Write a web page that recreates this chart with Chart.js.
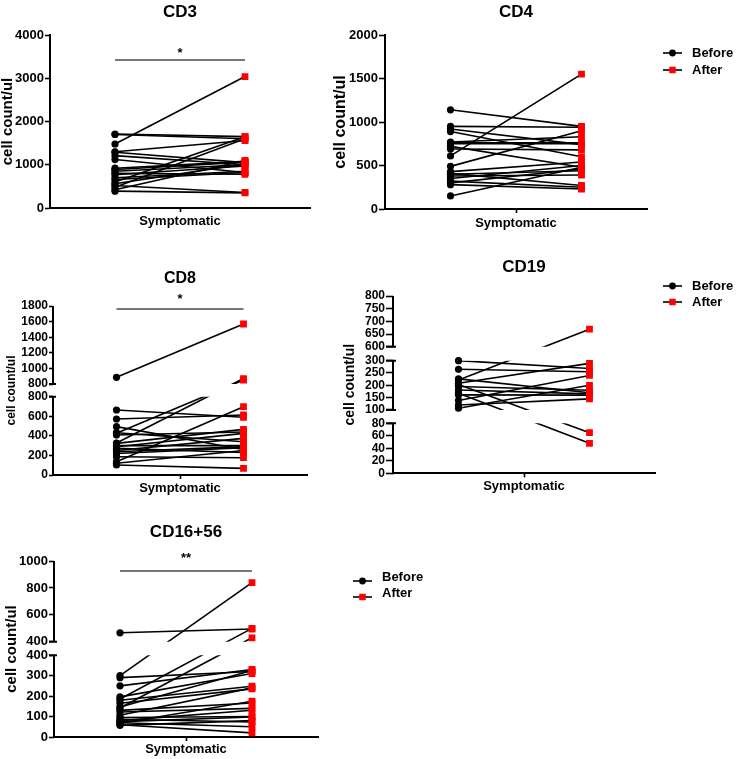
<!DOCTYPE html>
<html>
<head>
<meta charset="utf-8">
<script src="https://cdn.jsdelivr.net/npm/chart.js@4.4.0/dist/chart.umd.min.js"></script>
<style>
  html, body { margin: 0; padding: 0; background: #fff; }
  #wrap { position: relative; width: 750px; height: 759px; }
  #wrap canvas { position: absolute; left: 0; top: 0; }
</style>
</head>
<body>
<div id="wrap">
  <canvas id="cd3" width="750" height="759"></canvas>
  <canvas id="cd4" width="750" height="759"></canvas>
  <canvas id="cd8" width="750" height="759"></canvas>
  <canvas id="cd19" width="750" height="759"></canvas>
  <canvas id="cd16" width="750" height="759"></canvas>
</div>
<script>
// paired values per subject (cell count/ul)
const categories = ['Before', 'After'];

const cd3Before = [1710, 1700, 1480, 1300, 1290, 1210, 1120, 920, 890, 850, 800, 770, 700, 660, 600, 560, 520, 480, 420, 390];
const cd3After  = [1650, 1600, 3040, 1560, 1050, 1000, 820, 1080, 1060, 1000, 780, 970, 850, 820, 1650, 1020, 360, 1600, 1100, 350];
const cd3Ticks = [0, 1000, 2000, 3000, 4000];
const cd3Sig = 3420;

const cd4Before = [1140, 950, 920, 890, 770, 760, 750, 720, 690, 610, 490, 430, 410, 400, 380, 350, 320, 300, 280, 150];
const cd4After  = [950, 940, 740, 600, 830, 760, 750, 480, 680, 1550, 900, 540, 270, 440, 390, 500, 250, 460, 230, 480];
const cd4Ticks = [0, 500, 1000, 1500, 2000];

const cd8Before = [886, 664, 572, 494, 432, 426, 408, 327, 323, 300, 289, 272, 250, 238, 220, 187, 136, 120, 102];
const cd8After  = [1569, 590, 613, 260, 340, 850, 440, 870, 466, 300, 425, 230, 374, 290, 280, 177, 698, 250, 68];
const cd8Ranges = [[0, 800], [800, 1800]];
const cd8Ticks = [[0, 200, 400, 600, 800], [800, 1000, 1200, 1400, 1600, 1800]];
const cd8Sig = 1762;

const cd19Before = [300, 265, 222, 226, 208, 203, 195, 181, 168, 161, 138, 120, 107];
const cd19After  = [268, 255, 669, 170, 289, 65, 180, 165, 48, 160, 240, 145, 200];
const cd19Ranges = [[0, 80], [100, 300], [600, 800]];
const cd19Ticks = [[0, 20, 40, 60, 80], [100, 150, 200, 250, 300], [600, 650, 700, 750, 800]];

const cd16Before = [467, 300, 290, 250, 196, 186, 180, 165, 147, 142, 130, 122, 106, 95, 87, 80, 75, 70, 67, 60, 57];
const cd16After  = [495, 839, 320, 330, 310, 500, 248, 235, 325, 430, 166, 140, 240, 100, 73, 131, 98, 50, 175, 20, 80];
const cd16Ranges = [[0, 400], [400, 1000]];
const cd16Ticks = [[0, 100, 200, 300, 400], [400, 600, 800, 1000]];
const cd16Sig = 926;

const FONT = "'Liberation Sans', Arial, sans-serif";
Chart.defaults.color = '#000';
Chart.defaults.font.family = FONT;

// y axis with breaks: each range gets its own share of the height, gaps in between
class BrokenScale extends Chart.LinearScale {
  static id = 'broken';
  static defaults = {};

  segments() {
    const {ranges, weights, gaps} = this.options.breaks;
    const total = weights.reduce((s, w) => s + w, 0) + gaps.reduce((s, g) => s + g, 0);
    const k = (this.bottom - this.top) / total;
    let y = this.bottom;
    return ranges.map((r, i) => {
      const seg = {lo: r[0], hi: r[1], bottom: y, top: y - weights[i] * k};
      y = seg.top - (gaps[i] || 0) * k;
      return seg;
    });
  }

  segPixel(s, v) {
    return s.bottom - (v - s.lo) / (s.hi - s.lo) * (s.bottom - s.top);
  }

  getPixelForValue(value) {
    const segs = this.segments();
    for (let i = 0; i < segs.length; i++) {
      const s = segs[i];
      if (value <= s.hi || i === segs.length - 1) {
        if (value >= s.lo || i === 0) return this.segPixel(s, value);
        const p = segs[i - 1];
        return p.top + (value - p.hi) / (s.lo - p.hi) * (s.bottom - p.top);
      }
    }
  }

  getPixelForTick(index) {
    const t = this.ticks[index];
    return this.segPixel(this.segments()[t.seg], t.value);
  }

  getValueForPixel(pixel) {
    const segs = this.segments();
    const s = segs.find(sg => pixel >= sg.top) || segs[segs.length - 1];
    return s.lo + (s.bottom - pixel) / (s.bottom - s.top) * (s.hi - s.lo);
  }
}
Chart.register(BrokenScale);

// title, significance star, legend and the broken axis line
function figurePlugin(p) {
  return {
    id: 'figure',
    beforeDatasetsDraw(chart) {
      const y = chart.scales.y;
      if (!(y instanceof BrokenScale)) return;
      const {ctx, chartArea: a} = chart;
      const segs = y.segments();
      ctx.save();
      ctx.strokeStyle = '#000';
      ctx.lineWidth = 2;
      ctx.beginPath();
      segs.forEach((s, i) => {
        ctx.moveTo(a.left, s.bottom + (i === 0 ? 1 : 0));
        ctx.lineTo(a.left, s.top);
        if (i > 0) { ctx.moveTo(a.left - p.tickLen, s.bottom); ctx.lineTo(a.left + 3, s.bottom); }
        if (i < segs.length - 1) { ctx.moveTo(a.left - p.tickLen, s.top); ctx.lineTo(a.left + 3, s.top); }
      });
      ctx.stroke();
      ctx.restore();
    },
    beforeDatasetDraw(chart, args) {
      const y = chart.scales.y;
      if (!(y instanceof BrokenScale) || !chart.data.datasets[args.index].breakClip) return;
      const {ctx, chartArea: a} = chart;
      const segs = y.segments();
      ctx.save();
      ctx.beginPath();
      segs.forEach((s, i) => {
        const top = i === segs.length - 1 ? a.top - 10 : s.top;
        const bottom = i === 0 ? a.bottom + 10 : s.bottom;
        ctx.rect(a.left - 10, top, a.right - a.left + 20, bottom - top);
      });
      ctx.clip();
    },
    afterDatasetDraw(chart, args) {
      const y = chart.scales.y;
      if (!(y instanceof BrokenScale) || !chart.data.datasets[args.index].breakClip) return;
      chart.ctx.restore();
    },
    afterDraw(chart) {
      const {ctx, chartArea: a, scales: {y}} = chart;
      const cx = (a.left + a.right) / 2;
      ctx.save();
      ctx.fillStyle = '#000';
      ctx.textAlign = 'center';
      ctx.textBaseline = 'middle';
      ctx.font = `bold ${p.titleSize}px ${FONT}`;
      ctx.fillText(p.title, cx, p.titleY);
      if (p.star) {
        ctx.font = `bold 13px ${FONT}`;
        ctx.textBaseline = 'alphabetic';
        ctx.fillText(p.star, cx, y.getPixelForValue(p.sig) - p.starGap);
      }
      if (p.legend) {
        const lx = p.legend.x;
        categories.forEach((label, i) => {
          const ly = p.legend.y[i];
          ctx.strokeStyle = '#000';
          ctx.lineWidth = 1.6;
          ctx.beginPath();
          ctx.moveTo(lx, ly);
          ctx.lineTo(lx + 19, ly);
          ctx.stroke();
          ctx.fillStyle = i === 0 ? '#000' : '#ff0000';
          Chart.helpers.drawPoint(ctx, {
            pointStyle: i === 0 ? 'circle' : 'rect',
            radius: i === 0 ? 3.4 : 4.6, rotation: 0, borderWidth: 0
          }, lx + 9.5, ly);
          ctx.fillStyle = '#000';
          ctx.textAlign = 'left';
          ctx.font = `bold 13px ${FONT}`;
          ctx.fillText(label, lx + 29, ly);
        });
      }
      ctx.restore();
    }
  };
}

function drawPanel(p) {
  const broken = !!p.ranges;
  const datasets = [
    {
      data: p.before.map(v => ({x: categories[0], y: v})),
      showLine: false, pointStyle: 'circle', pointRadius: 3.6, pointBorderWidth: 0,
      pointBackgroundColor: '#000', pointBorderColor: '#000', order: 0
    },
    {
      data: p.after.map(v => ({x: categories[1], y: v})),
      showLine: false, pointStyle: 'rect', pointRadius: 4.8, pointBorderWidth: 0,
      pointBackgroundColor: '#ff0000', pointBorderColor: '#ff0000', order: 0
    }
  ];
  if (p.sig !== undefined) {
    datasets.push({data: [p.sig, p.sig], borderColor: '#4a4a4a', borderWidth: 1.5, pointRadius: 0, order: 1});
  }
  p.before.forEach((b, i) => {
    datasets.push({
      data: [b, p.after[i]], borderColor: '#000', borderWidth: 1.6,
      pointRadius: 0, order: 2, breakClip: true
    });
  });

  const yW = Math.min(60, p.axisX);
  const padLeft = p.axisX - yW;
  const yLh = p.yTitleSize * 1.2;

  const yScale = {
    type: broken ? 'broken' : 'linear',
    min: broken ? p.ranges[0][0] : p.ticks[0],
    max: broken ? p.ranges[p.ranges.length - 1][1] : p.ticks[p.ticks.length - 1],
    afterBuildTicks: s => {
      s.ticks = broken
        ? p.ticks.flatMap((group, seg) => group.map(v => ({value: v, seg})))
        : p.ticks.map(v => ({value: v}));
    },
    afterFit: s => { s.width = yW; },
    ticks: {
      autoSkip: false, color: '#000', padding: 1,
      font: {family: FONT, size: p.tickSize, weight: 'bold'},
      callback: v => String(v)
    },
    grid: {display: true, drawOnChartArea: false, drawTicks: true, tickLength: p.tickLen, tickWidth: 1.6, tickColor: '#000', color: '#000'},
    border: {display: !broken, color: '#000', width: 2},
    title: {
      display: true, text: 'cell count/ul', color: '#000',
      font: {family: FONT, size: p.yTitleSize, weight: 'bold'},
      padding: {top: p.yTitleX - padLeft - yLh / 2, bottom: 0}
    }
  };
  if (broken) {
    yScale.breaks = {ranges: p.ranges, weights: p.weights, gaps: p.gaps};
  }

  new Chart(document.getElementById(p.id), {
    type: 'line',
    data: {labels: categories, datasets},
    options: {
      responsive: false, animation: false, events: [], devicePixelRatio: 1,
      layout: {padding: {left: padLeft, top: p.top, right: 750 - p.right, bottom: 759 - p.axisY - 24}},
      plugins: {legend: {display: false}, tooltip: {enabled: false}, title: {display: false}},
      scales: {
        x: {
          type: 'category', offset: true,
          grid: {
            display: true, drawOnChartArea: false, drawTicks: true, offset: true, tickLength: 4, tickWidth: 1.6,
            tickColor: c => c.index === 1 ? '#000' : 'rgba(0,0,0,0)'
          },
          border: {display: true, color: '#000', width: 2},
          ticks: {display: false},
          title: {
            display: true, text: 'Symptomatic', color: '#000',
            font: {family: FONT, size: 13, weight: 'bold'},
            padding: {top: 0, bottom: 24 - p.xLabelGap - 7.8}
          },
          afterFit: s => { s.height = 24; }
        },
        y: yScale
      }
    },
    plugins: [figurePlugin(p)]
  });
}

[
  {id: 'cd3', title: 'CD3', before: cd3Before, after: cd3After, ticks: cd3Ticks, sig: cd3Sig, star: '*', starGap: 2.6,
   axisX: 50, top: 35, axisY: 208, right: 310, titleY: 12, titleSize: 17,
   yTitleX: 8, yTitleSize: 15, tickSize: 13, tickLen: 5, xLabelGap: 13},
  {id: 'cd4', title: 'CD4', before: cd4Before, after: cd4After, ticks: cd4Ticks,
   axisX: 385, top: 35, axisY: 209, right: 647, titleY: 12, titleSize: 17,
   yTitleX: 341, yTitleSize: 16, tickSize: 13, tickLen: 6, xLabelGap: 14,
   legend: {x: 663, y: [53, 70]}},
  {id: 'cd8', title: 'CD8', before: cd8Before, after: cd8After, ranges: cd8Ranges, ticks: cd8Ticks,
   weights: [78.3, 78], gaps: [12.7], sig: cd8Sig, star: '*', starGap: 5.6,
   axisX: 53, top: 306, axisY: 475, right: 307, titleY: 279, titleSize: 16,
   yTitleX: 12, yTitleSize: 12, tickSize: 12, tickLen: 4, xLabelGap: 13},
  {id: 'cd19', title: 'CD19', before: cd19Before, after: cd19After, ranges: cd19Ranges, ticks: cd19Ticks,
   weights: [50, 49.3, 50.7], gaps: [13.4, 14],
   axisX: 393, top: 296, axisY: 473.3, right: 655, titleY: 267, titleSize: 17,
   yTitleX: 350, yTitleSize: 14, tickSize: 12, tickLen: 7, xLabelGap: 13,
   legend: {x: 663, y: [286, 302]}},
  {id: 'cd16', title: 'CD16+56', before: cd16Before, after: cd16After, ranges: cd16Ranges, ticks: cd16Ticks,
   weights: [81.7, 80.7], gaps: [13.3], sig: cd16Sig, star: '**', starGap: 8.6,
   axisX: 54, top: 561, axisY: 737, right: 318, titleY: 532, titleSize: 17,
   yTitleX: 12, yTitleSize: 15, tickSize: 13, tickLen: 5, xLabelGap: 12,
   legend: {x: 353, y: [581, 597]}}
].forEach(drawPanel);
</script>
</body>
</html>
